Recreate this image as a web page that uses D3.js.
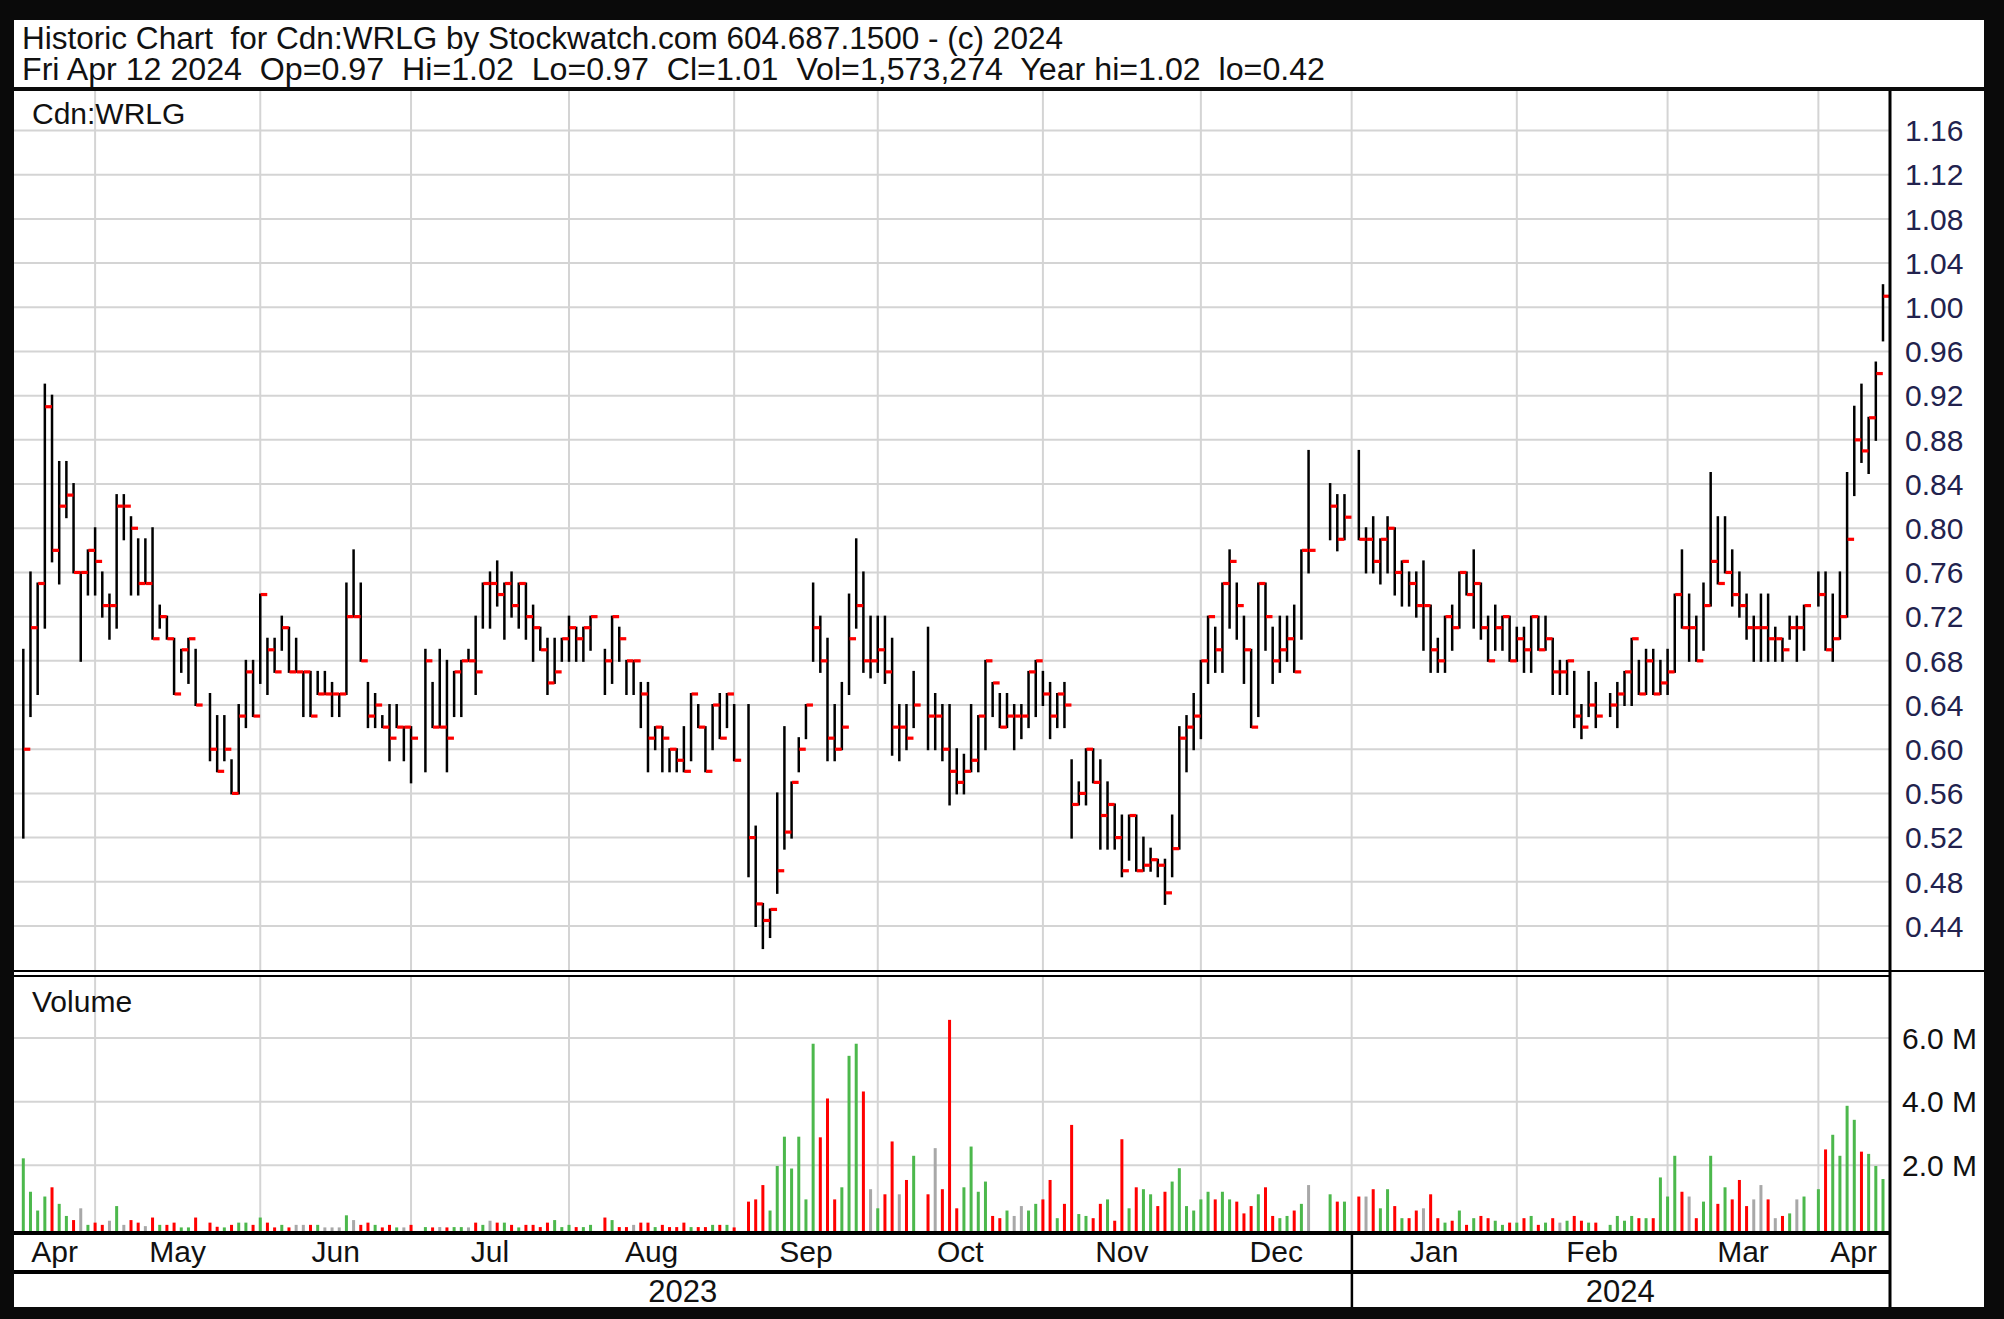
<!DOCTYPE html>
<html>
<head>
<meta charset="utf-8">
<script src="https://cdn.jsdelivr.net/npm/d3@7"></script>
<style>
  body { margin: 0; background: #0a0a0a; }
  text { font-family: "Liberation Sans", Arial, sans-serif; white-space: pre; }
</style>
</head>
<body>
<div class="canvas"></div>
<script>
// one slot per weekday from Apr 17 2023 to Apr 12 2024, null = market holiday
const high = [
  .69,.76,.75,.93,.92,.86,.86,.84,.76,.78, .80,.76,.74,.83,.83,.81,.79,.79,.80,.73,
  .72,.70,.69,.70,.69,null,.65,.63,.63,.59, .64,.68,.68,.74,.70,.70,.72,.71,.70,.67,
  .67,.67,.67,.66,.65,.75,.78,.75,.66,.65, .63,.64,.64,.62,.62,null,.69,.66,.69,.68,
  .67,.68,.69,.72,.75,.76,.77,.75,.76,.75, .75,.73,.71,.70,.70,.70,.72,.71,.71,.72,
  null,.69,.72,.71,.68,.68,.66,.66,.62,.62, .60,.60,.62,.65,.64,.62,.64,.65,.65,.64,
  null,.64,.53,.46,.455,.56,.62,.57,.61,.64, .75,.72,.70,.64,.66,.74,.79,.76,.72,.72,
  .72,.70,.64,.64,.67,null,.71,.65,.64,.64, .60,.595,.64,.63,.68,.66,.65,.65,.64,.64,
  .67,.68,.67,.66,.65,.66,.59,.57,.60,.60, .59,.57,.55,.54,.54,.54,.52,.51,.50,.50,
  .54,.62,.63,.65,.68,.72,.71,.75,.78,.75, .72,.69,.75,.75,.71,.72,.72,.73,.78,.87,
  null,null,.84,.83,.83,null,.87,.80,.81,.79, .81,.80,.77,.76,.76,.77,.73,.70,.72,.73,
  .76,.76,.78,.75,.72,.73,.72,.72,.71,.71, .72,.72,.72,.70,.68,.68,.67,.64,.67,.66,
  null,.65,.66,.67,.70,.68,.69,.69,.68,.69, .74,.78,.74,.72,.75,.85,.81,.81,.78,.76,
  .74,.72,.74,.74,.71,.70,.72,.72,.73,null, .76,.76,.74,.76,.85,.91,.93,.90,.95,1.02
];
const low = [
  .52,.63,.65,.71,.77,.75,.81,.76,.68,.74, .74,.72,.70,.71,.79,.74,.74,.75,.70,.71,
  .70,.65,.67,.66,.64,null,.59,.58,.59,.56, .56,.62,.63,.66,.65,.67,.69,.67,.67,.63,
  .63,.65,.65,.63,.63,.65,.72,.68,.62,.62, .62,.59,.62,.59,.57,null,.58,.62,.62,.58,
  .63,.63,.68,.65,.71,.71,.73,.70,.72,.71, .70,.68,.69,.65,.66,.68,.68,.68,.68,.69,
  null,.65,.66,.68,.65,.65,.62,.58,.60,.58, .58,.58,.58,.59,.62,.58,.60,.61,.62,.59,
  null,.485,.44,.42,.43,.47,.51,.52,.58,.61, .68,.67,.59,.59,.60,.65,.71,.67,.665,.67,
  .66,.595,.59,.60,.62,null,.60,.60,.59,.55, .56,.56,.58,.58,.60,.63,.62,.62,.60,.61,
  .62,.63,.64,.61,.62,.62,.52,.55,.55,.57, .51,.51,.51,.485,.50,.49,.49,.49,.485,.46,
  .485,.51,.58,.60,.61,.66,.67,.67,.71,.70, .66,.62,.63,.69,.66,.67,.68,.67,.70,.76,
  null,null,.79,.78,.79,null,.79,.76,.76,.75, .76,.74,.73,.73,.72,.69,.67,.67,.67,.69,
  .71,.74,.71,.70,.68,.69,.69,.68,.68,.67, .67,.69,.69,.65,.65,.65,.62,.61,.63,.62,
  null,.63,.62,.64,.64,.65,.65,.65,.65,.65, .67,.71,.68,.68,.69,.73,.75,.76,.73,.72,
  .70,.68,.68,.68,.68,.68,.70,.68,.69,null, .73,.69,.68,.70,.72,.83,.86,.85,.88,.97
];
const close = [
  .60,.71,.75,.91,.78,.82,.83,.76,.76,.78, .77,.73,.73,.82,.82,.80,.75,.75,.70,.72,
  .70,.65,.69,.70,.64,null,.60,.58,.60,.56, .63,.67,.63,.74,.69,.67,.71,.67,.67,.67,
  .63,.65,.65,.65,.65,.72,.72,.68,.63,.64, .62,.61,.62,.62,.61,null,.68,.62,.62,.61,
  .67,.68,.68,.67,.75,.75,.74,.75,.73,.75, .72,.71,.69,.66,.67,.70,.71,.70,.71,.72,
  null,.68,.72,.70,.68,.68,.65,.61,.62,.61, .60,.59,.58,.65,.62,.58,.64,.61,.65,.59,
  null,.52,.46,.445,.455,.49,.525,.57,.60,.64, .71,.68,.61,.60,.62,.70,.73,.68,.68,.69,
  .67,.62,.62,.61,.64,null,.63,.63,.60,.58, .57,.58,.59,.63,.68,.66,.62,.63,.63,.63,
  .67,.68,.65,.63,.65,.64,.55,.56,.60,.57, .54,.55,.52,.49,.54,.49,.495,.50,.495,.47,
  .51,.61,.62,.63,.68,.72,.69,.75,.77,.73, .69,.62,.75,.72,.68,.69,.70,.67,.78,.78,
  null,null,.82,.79,.81,null,.79,.79,.77,.79, .80,.76,.77,.75,.73,.73,.69,.68,.72,.71,
  .76,.74,.75,.71,.68,.71,.72,.68,.70,.69, .72,.69,.70,.67,.67,.68,.63,.62,.64,.63,
  null,.64,.65,.67,.70,.65,.68,.65,.66,.67, .74,.71,.71,.68,.73,.77,.75,.76,.74,.73,
  .71,.71,.71,.70,.70,.69,.71,.71,.73,null, .74,.69,.70,.72,.79,.88,.87,.90,.94,1.01
];
// volume in millions of shares
const volume = [
  2.22,1.17,0.58,1.02,1.31,0.79,0.41,0.28,0.65,0.13, 0.20,0.13,0.26,0.72,0.13,0.28,0.20,0.09,0.36,0.13,
  0.13,0.20,0.05,0.05,0.36,null,0.20,0.07,0.05,0.13, 0.20,0.20,0.13,0.36,0.20,0.05,0.13,0.05,0.13,0.13,
  0.13,0.13,0.05,0.05,0.05,0.43,0.28,0.13,0.20,0.13, 0.05,0.13,0.05,0.05,0.13,null,0.06,0.05,0.06,0.05,
  0.06,0.06,0.05,0.20,0.13,0.26,0.20,0.20,0.13,0.05, 0.13,0.13,0.06,0.20,0.28,0.06,0.13,0.06,0.06,0.13,
  null,0.36,0.28,0.06,0.06,0.13,0.20,0.20,0.06,0.13, 0.06,0.06,0.20,0.06,0.06,0.06,0.13,0.13,0.13,0.05,
  null,0.86,0.93,1.38,0.58,1.98,2.90,1.90,2.90,0.93, 5.82,2.88,4.10,0.93,1.31,5.44,5.82,4.32,1.25,0.65,
  1.09,2.75,1.09,1.54,2.30,null,1.09,2.54,1.25,6.57, 0.65,1.31,2.59,1.17,1.49,0.41,0.34,0.58,0.41,0.72,
  0.58,0.79,0.93,1.54,0.34,0.79,3.27,0.47,0.41,0.34, 0.79,0.93,0.26,2.82,0.65,1.31,1.25,1.09,0.72,1.17,
  1.49,1.91,0.72,0.58,0.93,1.17,0.93,1.17,0.93,0.86, 0.49,0.72,1.09,1.31,0.41,0.34,0.41,0.58,0.79,1.38,
  null,null,1.09,0.86,0.86,null,1.02,1.02,1.25,0.65, 1.25,0.72,0.34,0.34,0.58,0.65,1.09,0.34,0.20,0.26,
  0.58,0.13,0.34,0.41,0.34,0.26,0.13,0.20,0.20,0.34, 0.41,0.13,0.20,0.34,0.20,0.26,0.41,0.26,0.20,0.20,
  null,0.13,0.41,0.26,0.41,0.34,0.34,0.34,1.62,1.02, 2.30,1.17,1.02,0.34,0.86,2.30,0.79,1.31,0.93,1.54,
  0.72,0.93,1.38,0.93,0.34,0.41,0.49,0.93,1.02,null, 1.25,2.50,2.96,2.30,3.87,3.43,2.43,2.36,1.98,1.57
];

const priceTicks = [0.44,0.48,0.52,0.56,0.60,0.64,0.68,0.72,0.76,0.80,0.84,0.88,0.92,0.96,1.00,1.04,1.08,1.12,1.16];
const volumeTicks = [2, 4, 6];
const monthLabels = ['Apr','May','Jun','Jul','Aug','Sep','Oct','Nov','Dec','Jan','Feb','Mar','Apr'];
const yearLabels = ['2023', '2024'];

const title = 'Historic Chart  for Cdn:WRLG by Stockwatch.com 604.687.1500 - (c) 2024';
const subtitle = 'Fri Apr 12 2024  Op=0.97  Hi=1.02  Lo=0.97  Cl=1.01  Vol=1,573,274  Year hi=1.02  lo=0.42';

// weekday calendar behind the slots
const days = d3.timeDay.range(new Date(2023, 3, 17), new Date(2024, 3, 13))
  .filter(d => d.getDay() !== 0 && d.getDay() !== 6);
const monthStarts = d3.timeMonth.range(new Date(2023, 4, 1), new Date(2024, 3, 2));
// gridline sits on the last weekday on or before the 1st
const monthSlots = monthStarts.map(m => d3.bisectRight(days, m) - 1);
const janSlot = monthSlots[8];

const W = 2004, H = 1319;
const plotLeft = 14, plotRight = 1889;

const svg = d3.select('.canvas').append('svg')
  .attr('width', W)
  .attr('height', H);

svg.append('rect').attr('width', W).attr('height', H).attr('fill', '#0a0a0a');
svg.append('rect').attr('x', 14).attr('y', 20).attr('width', 1970).attr('height', 67).attr('fill', '#fff');
svg.append('rect').attr('x', 14).attr('y', 91).attr('width', 1970).attr('height', 1216).attr('fill', '#fff');

const x = d3.scaleLinear()
  .domain([0, days.length - 1])
  .range([23.3, 1883]);

const y = d3.scaleLinear()
  .domain([0.44, 1.16])
  .range([926, 130.5]);

const yVol = d3.scaleLinear()
  .domain([0, 6])
  .range([1229, 1038]);

const grid = '#d4d4d4';

// horizontal grid
svg.append('g').selectAll('line').data(priceTicks).enter().append('line')
  .attr('x1', plotLeft).attr('x2', plotRight)
  .attr('y1', d => y(d)).attr('y2', d => y(d))
  .attr('stroke', grid).attr('stroke-width', 2);

svg.append('g').selectAll('line').data(volumeTicks).enter().append('line')
  .attr('x1', plotLeft).attr('x2', plotRight)
  .attr('y1', d => yVol(d)).attr('y2', d => yVol(d))
  .attr('stroke', grid).attr('stroke-width', 2);

// month grid in both panels
const vgrid = svg.append('g');
monthSlots.forEach(s => {
  vgrid.append('line').attr('x1', x(s)).attr('x2', x(s)).attr('y1', 91).attr('y2', 970)
    .attr('stroke', grid).attr('stroke-width', 2);
  vgrid.append('line').attr('x1', x(s)).attr('x2', x(s)).attr('y1', 977).attr('y2', 1231)
    .attr('stroke', grid).attr('stroke-width', 2);
});

// high-low bars with close tick
const slots = d3.range(days.length).filter(i => high[i] != null);

svg.append('g').selectAll('line').data(slots).enter().append('line')
  .attr('x1', i => x(i)).attr('x2', i => x(i))
  .attr('y1', i => y(high[i]) - 1).attr('y2', i => y(low[i]) + 1)
  .attr('stroke', '#000').attr('stroke-width', 2.5);

svg.append('g').selectAll('rect').data(slots).enter().append('rect')
  .attr('x', i => x(i) + 0.5)
  .attr('y', i => y(close[i]) - 1.6)
  .attr('width', 6.5)
  .attr('height', 3.2)
  .attr('fill', '#ff0000');

// volume bars coloured by close change
const volColor = (i, k) => {
  if (k === 0) return '#4cb84c';
  const prev = close[slots[k - 1]];
  if (close[i] > prev) return '#4cb84c';
  if (close[i] < prev) return '#ff0000';
  return '#a8a8a8';
};

svg.append('g').selectAll('rect').data(slots).enter().append('rect')
  .attr('x', i => x(i) - 1.5)
  .attr('y', i => yVol(volume[i]))
  .attr('width', 3)
  .attr('height', i => 1231 - yVol(volume[i]))
  .attr('fill', (i, k) => volColor(i, k));

// frame lines
const black = '#000';
svg.append('rect').attr('x', 1888.5).attr('y', 91).attr('width', 3).attr('height', 1216).attr('fill', black);
svg.append('rect').attr('x', 14).attr('y', 970).attr('width', 1970).attr('height', 2).attr('fill', black);
svg.append('rect').attr('x', 14).attr('y', 975).attr('width', 1876).attr('height', 2).attr('fill', black);
svg.append('rect').attr('x', 14).attr('y', 1231).attr('width', 1876).attr('height', 4).attr('fill', black);
svg.append('rect').attr('x', 14).attr('y', 1270).attr('width', 1876).attr('height', 4).attr('fill', black);
svg.append('rect').attr('x', x(janSlot) - 1).attr('y', 1233).attr('width', 2.5).attr('height', 74).attr('fill', black);

// header
svg.append('text').attr('x', 22).attr('y', 49).attr('font-size', 31)
  .attr('textLength', 1041).attr('lengthAdjust', 'spacingAndGlyphs')
  .attr('fill', '#111').text(title);
svg.append('text').attr('x', 22).attr('y', 80).attr('font-size', 31)
  .attr('textLength', 1303).attr('lengthAdjust', 'spacingAndGlyphs')
  .attr('fill', '#111').text(subtitle);

svg.append('text').attr('x', 32).attr('y', 124).attr('font-size', 30).attr('fill', '#111').text('Cdn:WRLG');
svg.append('text').attr('x', 32).attr('y', 1012).attr('font-size', 30).attr('fill', '#111').text('Volume');

// right axes
svg.append('g').selectAll('text').data(priceTicks).enter().append('text')
  .attr('x', 1905).attr('y', d => y(d))
  .attr('dy', '0.36em')
  .attr('font-size', 30)
  .attr('fill', '#22224e')
  .text(d => d3.format('.2f')(d));

svg.append('g').selectAll('text').data(volumeTicks).enter().append('text')
  .attr('x', 1902).attr('y', d => yVol(d))
  .attr('dy', '0.36em')
  .attr('font-size', 30)
  .attr('fill', '#111')
  .text(d => d3.format('.1f')(d) + ' M');

// month and year rows
const bounds = [plotLeft].concat(monthSlots.map(s => x(s)), [plotRight]);
svg.append('g').selectAll('text').data(monthLabels).enter().append('text')
  .attr('x', (d, i) => (bounds[i] + bounds[i + 1]) / 2)
  .attr('y', 1262)
  .attr('text-anchor', 'middle')
  .attr('font-size', 30)
  .attr('fill', '#111')
  .text(d => d);

const yearBounds = [[plotLeft, x(janSlot)], [x(janSlot), plotRight]];
svg.append('g').selectAll('text').data(yearLabels).enter().append('text')
  .attr('x', (d, i) => (yearBounds[i][0] + yearBounds[i][1]) / 2)
  .attr('y', 1302)
  .attr('text-anchor', 'middle')
  .attr('font-size', 31)
  .attr('fill', '#111')
  .text(d => d);
</script>
</body>
</html>
